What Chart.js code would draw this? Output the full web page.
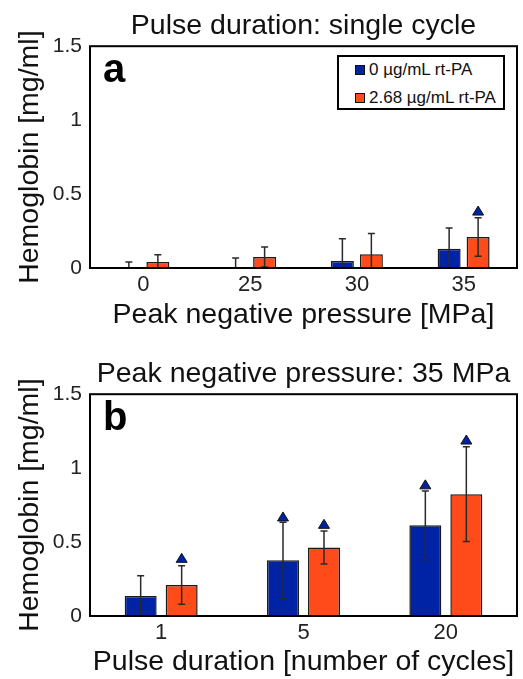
<!DOCTYPE html>
<html>
<head>
<meta charset="utf-8">
<script src="https://cdn.jsdelivr.net/npm/chart.js@4.4.0/dist/chart.umd.min.js"></script>
<style>
  html, body { margin: 0; padding: 0; background: #fff; }
  #wrap { position: relative; width: 523px; height: 679px; }
  #boxA { position: absolute; left: 0; top: 0; }
  #boxB { position: absolute; left: 0; top: 340px; }
  #legendA {
    position: absolute; left: 337px; top: 55px; width: 168px; height: 55px;
    box-sizing: border-box; border: 2px solid #000; background: #fff;
    font-family: "Liberation Sans", Arial, sans-serif; font-size: 17px; color: #111;
  }
  #legendA .item { position: absolute; left: 16px; height: 20px; line-height: 20px; white-space: nowrap; }
  #legendA .sw { display: inline-block; width: 8px; height: 8px; border: 1px solid #111; margin-right: 4px; vertical-align: 0px; }
</style>
</head>
<body>
<div id="wrap">
  <div id="boxA"><canvas id="chartA" width="523" height="340"></canvas></div>
  <div id="boxB"><canvas id="chartB" width="523" height="339"></canvas></div>
  <div id="legendA"></div>
</div>
<script>
// --- data: panel a (single cycle) ---
var catsA = ['0', '25', '30', '35'];
var blueA = [0, 0, 0.047, 0.131];
var blueErrA = [0.04, 0.068, 0.15, 0.14];
var orangeA = [0.04, 0.074, 0.093, 0.21];
var orangeErrA = [0.05, 0.068, 0.14, 0.13];
var markBlueA = [null, null, null, null];
var markOrangeA = [null, null, null, 0.385];

// --- data: panel b (35 MPa) ---
var catsB = ['1', '5', '20'];
var blueB = [0.135, 0.377, 0.613];
var blueErrB = [0.138, 0.257, 0.232];
var orangeB = [0.21, 0.463, 0.824];
var orangeErrB = [0.13, 0.112, 0.32];
var markBlueB = [null, 0.67, 0.887];
var markOrangeB = [0.39, 0.62, 1.19];

var yTickValues = [0, 0.5, 1, 1.5];
var yTickLabels = ['0', '0.5', '1', '1.5'];
var seriesLabels = ['0 µg/mL rt-PA', '2.68 µg/mL rt-PA'];

var BLUE = '#0022a5';
var ORANGE = '#ff4a1a';
var FONT = '"Liberation Sans", Arial, sans-serif';

// error bars, triangles, frame and panel letter
var extras = {
  id: 'extras',
  afterDatasetsDraw: function(chart, args, opts) {
    var ctx = chart.ctx, y = chart.scales.y, area = chart.chartArea;
    ctx.save();
    chart.data.datasets.forEach(function(ds, di) {
      var meta = chart.getDatasetMeta(di);
      meta.data.forEach(function(bar, i) {
        var v = ds.data[i], e = ds.errors[i];
        var x = bar.x;
        var top = y.getPixelForValue(v + e);
        var bot = y.getPixelForValue(Math.max(0, v - e));
        ctx.strokeStyle = '#2a2a2a';
        ctx.lineWidth = 1.5;
        ctx.beginPath();
        ctx.moveTo(x, bot); ctx.lineTo(x, top);
        ctx.moveTo(x - 3.5, top); ctx.lineTo(x + 3.5, top);
        if (v - e > 0) { ctx.moveTo(x - 3.5, bot); ctx.lineTo(x + 3.5, bot); }
        ctx.stroke();
        var m = ds.markers[i];
        if (m !== null) {
          var my = y.getPixelForValue(m);
          ctx.beginPath();
          ctx.moveTo(x, my - 5);
          ctx.lineTo(x + 5.5, my + 4);
          ctx.lineTo(x - 5.5, my + 4);
          ctx.closePath();
          ctx.fillStyle = BLUE;
          ctx.fill();
          ctx.strokeStyle = '#111';
          ctx.lineWidth = 1;
          ctx.stroke();
        }
      });
    });
    // plot frame
    ctx.strokeStyle = '#000';
    ctx.lineWidth = 2;
    ctx.strokeRect(area.left, area.top, area.right - area.left, area.bottom - area.top);
    // panel letter
    ctx.fillStyle = '#000';
    ctx.font = 'bold 40px ' + FONT;
    ctx.textBaseline = 'alphabetic';
    ctx.textAlign = 'left';
    ctx.fillText(opts.letter, area.left + 13, area.top + 36);
    ctx.restore();
  }
};

function makeChart(canvasId, cats, b, bErr, bMark, o, oErr, oMark, cfg) {
  return new Chart(document.getElementById(canvasId), {
    type: 'bar',
    data: {
      labels: cats,
      datasets: [
        { label: seriesLabels[0], data: b, errors: bErr, markers: bMark,
          backgroundColor: BLUE, borderColor: '#1a1a1a', borderWidth: 1.5,
          categoryPercentage: cfg.catPct, barPercentage: cfg.barPct },
        { label: seriesLabels[1], data: o, errors: oErr, markers: oMark,
          backgroundColor: ORANGE, borderColor: '#1a1a1a', borderWidth: 1.5,
          categoryPercentage: cfg.catPct, barPercentage: cfg.barPct }
      ]
    },
    options: {
      responsive: false,
      animation: false,
      devicePixelRatio: 1,
      layout: { padding: { left: 0, right: 6, top: 0, bottom: 0 } },
      plugins: {
        legend: { display: false },
        tooltip: { enabled: false },
        title: {
          display: true, text: cfg.title, fullSize: false, color: '#111',
          font: { family: FONT, size: 28.5, weight: 'normal' },
          padding: { top: cfg.titleTop, bottom: 3 }
        },
        extras: { letter: cfg.letter }
      },
      scales: {
        x: {
          grid: { display: false, drawTicks: false },
          border: { display: false },
          ticks: { color: '#222', padding: 4, font: { family: FONT, size: 22 } },
          title: { display: true, text: cfg.xTitle, color: '#111',
                   font: { family: FONT, size: 28.5 }, padding: { top: 0, bottom: cfg.xTitleBottom } },
          afterFit: function(s) { s.height = cfg.xHeight; }
        },
        y: {
          min: 0, max: 1.5,
          grid: { display: false, drawTicks: false },
          border: { display: false },
          afterBuildTicks: function(s) { s.ticks = yTickValues.map(function(v) { return { value: v }; }); },
          ticks: { color: '#222', padding: 8, font: { family: FONT, size: 21 },
                   callback: function(v, i) { return yTickLabels[i]; } },
          title: { display: true, text: 'Hemoglobin [mg/ml]', color: '#111',
                   font: { family: FONT, size: 28.5 }, padding: { top: 13, bottom: 0 } },
          afterFit: function(s) { s.width = 90; }
        }
      }
    },
    plugins: [extras]
  });
}

var chartA = makeChart('chartA', catsA, blueA, blueErrA, markBlueA, orangeA, orangeErrA, markOrangeA, {
  title: 'Pulse duration: single cycle', xTitle: 'Peak negative pressure [MPa]', letter: 'a',
  titleTop: 9, xHeight: 72, xTitleBottom: 8, catPct: 0.543, barPct: 0.793
});
var chartB = makeChart('chartB', catsB, blueB, blueErrB, markBlueB, orangeB, orangeErrB, markOrangeB, {
  title: 'Peak negative pressure: 35 MPa', xTitle: 'Pulse duration [number of cycles]', letter: 'b',
  titleTop: 17, xHeight: 63, xTitleBottom: 0, catPct: 0.576, barPct: 0.78
});

// html legend for panel a, built from the chart's datasets
var legendEl = document.getElementById('legendA');
chartA.data.datasets.forEach(function(ds, i) {
  var item = document.createElement('div');
  item.className = 'item';
  item.style.top = (i === 0 ? 3 : 31) + 'px';
  var sw = document.createElement('span');
  sw.className = 'sw';
  sw.style.background = ds.backgroundColor;
  item.appendChild(sw);
  item.appendChild(document.createTextNode(ds.label));
  legendEl.appendChild(item);
});
</script>
</body>
</html>
